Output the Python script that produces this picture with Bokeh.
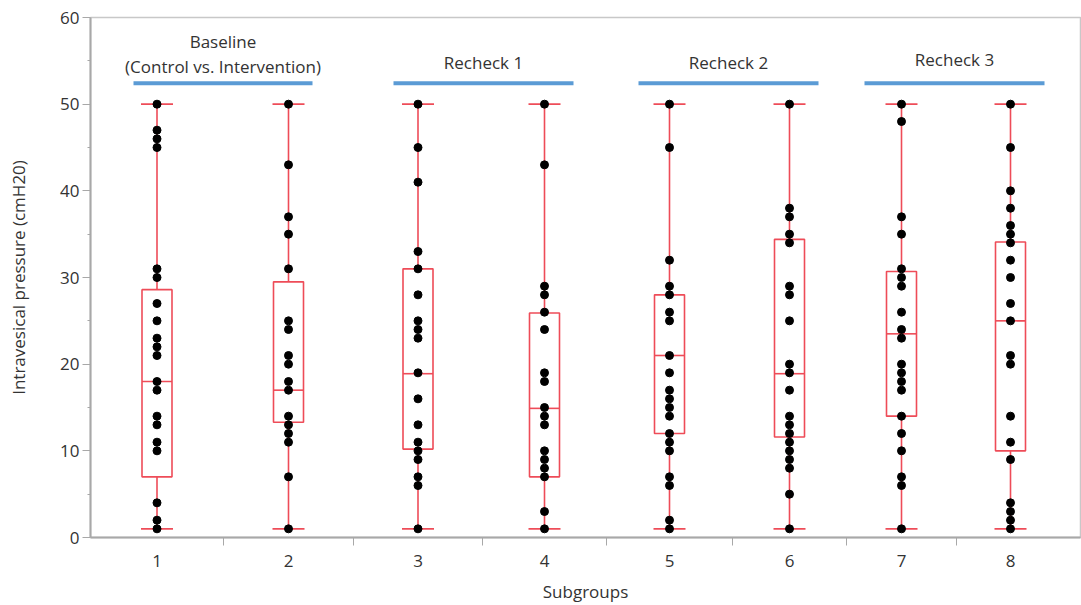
from bokeh.plotting import figure
from bokeh.models import Range1d, FixedTicker, ColumnDataSource
from bokeh.core.properties import value
from bokeh.embed import file_html
from bokeh.resources import INLINE

# ---------------- data ----------------
subgroups = ["1", "2", "3", "4", "5", "6", "7", "8"]

g1 = [50, 47, 46, 45, 31, 30, 27, 25, 23, 22, 21, 18, 17, 14, 13, 11, 10, 4, 2, 1]
g2 = [50, 43, 37, 35, 31, 25, 24, 21, 20, 18, 17, 14, 13, 12, 11, 7, 1]
g3 = [50, 45, 41, 33, 31, 28, 25, 24, 23, 19, 16, 13, 11, 10, 9, 7, 6, 1]
g4 = [50, 43, 29, 28, 26, 24, 19, 18, 15, 14, 13, 10, 9, 8, 7, 3, 1]
g5 = [50, 45, 32, 29, 28, 26, 25, 21, 19, 17, 16, 15, 14, 12, 11, 10, 7, 6, 2, 1]
g6 = [50, 38, 37, 35, 34, 29, 28, 25, 20, 19, 17, 14, 13, 12, 11, 10, 9, 8, 5, 1]
g7 = [50, 48, 37, 35, 31, 30, 29, 26, 24, 23, 20, 19, 18, 17, 14, 12, 10, 7, 6, 1]
g8 = [50, 45, 40, 38, 36, 35, 34, 32, 30, 27, 25, 21, 20, 14, 11, 9, 4, 3, 2, 1]
groups = [g1, g2, g3, g4, g5, g6, g7, g8]

# box statistics as drawn
q1 = [7.0, 13.3, 10.2, 7.0, 12.0, 11.6, 14.0, 10.0]
median = [18.0, 17.0, 18.9, 14.9, 21.0, 18.9, 23.5, 25.0]
q3 = [28.6, 29.5, 31.0, 25.9, 28.0, 34.4, 30.7, 34.1]
whisker_lo = [1, 1, 1, 1, 1, 1, 1, 1]
whisker_hi = [50, 50, 50, 50, 50, 50, 50, 50]

phase_labels = ["Baseline\n(Control vs. Intervention)", "Recheck 1", "Recheck 2", "Recheck 3"]

y_ticks = [0, 10, 20, 30, 40, 50, 60]

# ---------------- layout (category band edges, in axis units) ----------------
edges = [0, 133, 263, 392, 516, 642, 756, 866, 974]
centers = [(edges[i] + edges[i + 1]) / 2 for i in range(len(subgroups))]
phase_spans = [(43, 222), (303, 483), (548, 728), (774, 954)]
phase_text_y = [None, 54.8, 54.8, 55.1]

RED = "#EE4C58"
BLUE = "#5B9BD5"
FONT = "Open Sans"
TXT = "#333333"

p = figure(width=1081, height=605, output_backend="svg", toolbar_location=None,
           x_range=Range1d(0, 990), y_range=Range1d(0, 60),
           min_border_left=90, min_border_right=1, min_border_top=17, min_border_bottom=67)
p.grid.visible = False
p.outline_line_color = "#C8C8C8"
p.outline_line_width = 1.5
p.background_fill_color = "white"
p.border_fill_color = "white"

# boxes
half = 15
cap = 16
src = ColumnDataSource(dict(x=centers, q1=q1, q3=q3, med=median, lo=whisker_lo, hi=whisker_hi,
                            left=[c - half for c in centers], right=[c + half for c in centers],
                            cl=[c - cap for c in centers], cr=[c + cap for c in centers]))
p.segment(x0="x", y0="lo", x1="x", y1="q1", source=src, line_color=RED, line_width=1.6)
p.segment(x0="x", y0="q3", x1="x", y1="hi", source=src, line_color=RED, line_width=1.6)
p.quad(left="left", right="right", bottom="q1", top="q3", source=src,
       fill_color=None, line_color=RED, line_width=1.6)
p.segment(x0="left", y0="med", x1="right", y1="med", source=src, line_color=RED, line_width=1.6)
p.segment(x0="cl", y0="hi", x1="cr", y1="hi", source=src, line_color=RED, line_width=1.6)
p.segment(x0="cl", y0="lo", x1="cr", y1="lo", source=src, line_color=RED, line_width=1.6)

# points
px, py = [], []
for c, g in zip(centers, groups):
    px += [c] * len(g)
    py += g
p.scatter(px, py, size=8, color="black", line_color="black")

# phase annotations
for (a, b), lab, ty in zip(phase_spans, phase_labels, phase_text_y):
    p.line([a, b], [52.4, 52.4], line_color=BLUE, line_width=4)
    mid = (a + b) / 2
    if "\n" in lab:
        l1, l2 = lab.split("\n")
        p.text([mid], [57.2], text=[l1], text_align="center", text_baseline="middle",
               text_font=value(FONT), text_font_size="17px", text_color=TXT)
        p.text([mid], [54.3], text=[l2], text_align="center", text_baseline="middle",
               text_font=value(FONT), text_font_size="17px", text_color=TXT)
    else:
        p.text([mid], [ty], text=[lab], text_align="center", text_baseline="middle",
               text_font=value(FONT), text_font_size="17px", text_color=TXT)

# axes
ax = p.xaxis[0]
ax.ticker = FixedTicker(ticks=centers, minor_ticks=edges[1:-1])
ax.major_label_overrides = {c: s for c, s in zip(centers, subgroups)}
ax.major_tick_out = 0
ax.major_tick_in = 0
ax.minor_tick_out = 8
ax.minor_tick_in = 0
ax.minor_tick_line_color = "#A8A8A8"
ax.axis_line_color = "#A8A8A8"
ax.axis_line_width = 2
ax.major_label_standoff = 9
ax.axis_label = "Subgroups"
ax.axis_label_standoff = 10

ay = p.yaxis[0]
ay.ticker = FixedTicker(ticks=y_ticks, minor_ticks=[5, 15, 25, 35, 45, 55])
ay.major_tick_out = 8
ay.major_tick_in = 0
ay.minor_tick_out = 3
ay.minor_tick_in = 0
ay.major_tick_line_color = "#A8A8A8"
ay.minor_tick_line_color = "#A8A8A8"
ay.axis_line_color = "#A8A8A8"
ay.axis_line_width = 2
ay.major_label_standoff = 3
ay.axis_label = "Intravesical pressure (cmH20)"
ay.axis_label_standoff = 27

for a in (ax, ay):
    a.major_label_text_font = FONT
    a.major_label_text_font_size = "17px"
    a.major_label_text_color = TXT
    a.axis_label_text_font = FONT
    a.axis_label_text_font_size = "17px"
    a.axis_label_text_font_style = "normal"
    a.axis_label_text_color = TXT

open("out.html", "w").write(file_html(p, INLINE))
